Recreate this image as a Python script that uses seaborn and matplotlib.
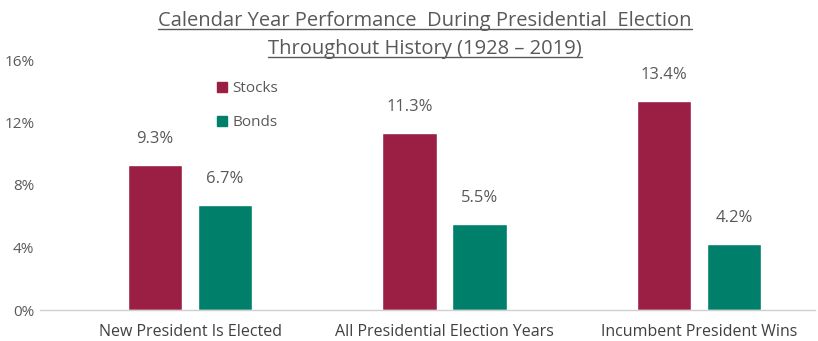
import matplotlib
matplotlib.use("Agg")
import matplotlib.pyplot as plt
import seaborn as sns
import pandas as pd
from matplotlib.lines import Line2D

categories = ["New President Is Elected", "All Presidential Election Years", "Incumbent President Wins"]
stocks = [9.3, 11.3, 13.4]
bonds = [6.7, 5.5, 4.2]
series_names = ["Stocks", "Bonds"]
yticks = [0, 4, 8, 12, 16]
ytick_labels = ["0%", "4%", "8%", "12%", "16%"]
title_lines = ["Calendar Year Performance  During Presidential  Election",
               "Throughout History (1928 \u2013 2019)"]

df = pd.DataFrame({
    "category": categories * 2,
    "series": [series_names[0]] * 3 + [series_names[1]] * 3,
    "value": stocks + bonds,
})

sns.set_theme(style="white")
plt.rcParams["font.family"] = ["Open Sans", "DejaVu Sans"]
grey = "#595959"

fig = plt.figure(figsize=(8.18, 3.41), dpi=100)
ax = fig.add_axes([40 / 818, 1 - 310 / 341, 775 / 818, 250 / 341])
palette = {"Stocks": "#9B1F45", "Bonds": "#00806A"}
sns.barplot(data=df, x="category", y="value", hue="series", palette=palette,
            width=0.55, gap=0.22, ax=ax, legend=False, saturation=1)

for cont in ax.containers:
    ax.bar_label(cont, labels=[f"{v:.1f}%" for v in cont.datavalues],
                 padding=13, fontsize=12, color=grey)

ax.set_ylim(0, 16)
ax.set_xlim(-0.59, 2.456)
ax.set_yticks(yticks)
ax.set_yticklabels(ytick_labels, fontsize=11, color=grey)
ax.set_xlabel("")
ax.set_ylabel("")
ax.tick_params(axis="x", labelsize=11.5, colors=grey, length=0, pad=10)
ax.tick_params(axis="y", length=0, pad=4)
for lbl in ax.get_xticklabels():
    lbl.set_color("#404040")
for s in ["top", "right", "left"]:
    ax.spines[s].set_visible(False)
ax.spines["bottom"].set_color("#d0d0d0")
ax.spines["bottom"].set_linewidth(1)

# legend
handles = [Line2D([0], [0], marker="s", linestyle="", markersize=7,
                  markerfacecolor=palette[n], markeredgecolor=palette[n]) for n in series_names]
leg = fig.legend(handles, series_names, loc="upper left",
                 bbox_to_anchor=(215 / 818, 1 - 81 / 341), frameon=False,
                 fontsize=11, labelspacing=1.25, handletextpad=0.25, handlelength=0.9,
                 borderaxespad=0, borderpad=0)
for t in leg.get_texts():
    t.set_color(grey)

# title with underline
ys = [1 - 21 / 341, 1 - 49 / 341]
texts = []
for line, y in zip(title_lines, ys):
    texts.append(fig.text(425 / 818, y, line, ha="center", va="center",
                          fontsize=14.5, color=grey))
fig.canvas.draw()
r = fig.canvas.get_renderer()
for t in texts:
    bb = t.get_window_extent(r).transformed(fig.transFigure.inverted())
    fig.add_artist(Line2D([bb.x0, bb.x1], [bb.y0 + 0.006, bb.y0 + 0.006],
                          transform=fig.transFigure, color=grey, lw=1))

fig.savefig("out.png", dpi=100)
